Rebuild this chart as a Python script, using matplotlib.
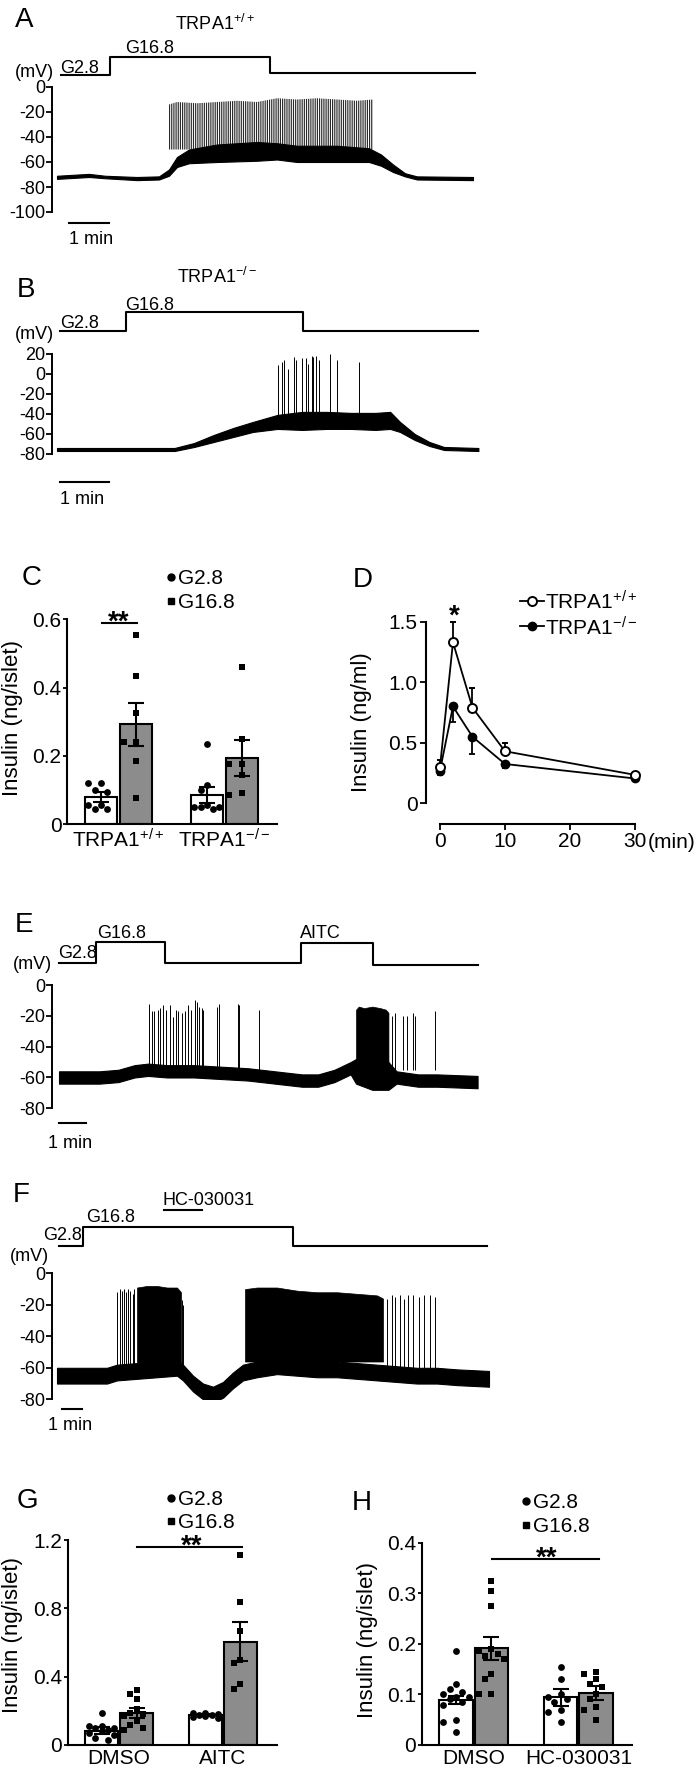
import numpy as np
import matplotlib
matplotlib.use('Agg')
import matplotlib.pyplot as plt
from matplotlib.transforms import blended_transform_factory

plt.rcParams['font.family'] = ['Liberation Sans', 'DejaVu Sans']
plt.rcParams['mathtext.fontset'] = 'custom'
plt.rcParams['mathtext.rm'] = 'Liberation Sans'
plt.rcParams['mathtext.it'] = 'Liberation Sans:italic'
plt.rcParams['mathtext.default'] = 'regular'
plt.rcParams['axes.unicode_minus'] = False
plt.rcParams['hatch.linewidth'] = 0.6

# ---------------- data ----------------
# A: TRPA1+/+ membrane potential (min, mV)
a_band_t = [0, 0.8, 1.2, 2.0, 2.55, 2.8, 3.0, 3.3, 4.0, 5.0, 5.5, 6.0, 7.0, 7.8, 8.1, 8.4, 8.7, 9.0, 10.4]
a_band_lo = [-73.5, -72, -73, -74.5, -74, -71, -64, -61, -60, -59, -58, -60, -60, -60, -63, -68, -71.5, -74, -74.5]
a_band_hi = [-71, -69.5, -71, -72, -71.5, -66, -56, -50, -46, -44, -45, -47, -47, -49, -54, -62, -69, -71.5, -72]
a_burst_t = [2.8, 3.0, 3.5, 4.0, 4.5, 5.0, 5.5, 6.0, 6.5, 7.0, 7.5, 7.9]
a_burst_top = [-14, -12, -13, -12, -11, -12, -9, -10, -9, -10, -11, -10]
a_stim_t = [0.1, 1.33, 1.33, 5.33, 5.33, 10.45]

# B: TRPA1-/-
b_band_t = [0, 2.4, 2.8, 3.2, 3.6, 4.0, 4.5, 5.0, 5.5, 6.0, 6.5, 6.8, 7.0, 7.3, 7.6, 7.9, 8.6]
b_band_lo = [-77, -77, -73, -68, -63, -58, -55, -56, -55, -55, -56, -55, -58, -66, -72, -76, -77]
b_band_hi = [-74, -74, -69, -61, -54, -48, -41, -38, -38, -39, -39, -38, -48, -60, -68, -73, -74]
b_spike_t = [4.51, 4.59, 4.63, 4.71, 4.84, 4.88, 5.00, 5.08, 5.12, 5.20, 5.22, 5.29, 5.35, 5.57, 5.71, 6.16]
b_spike_v = [9, 12, 14, 5, 17, 14, 16, 16, 10, 18, 17, 18, 14, 20, 14, 12]
b_stim_t = [0.06, 1.41, 1.41, 5.02, 5.02, 8.59]

# C: static insulin secretion
c_groups = ['TRPA1$^{+/+}$', 'TRPA1$^{-/-}$']
c_mean = [0.08, 0.292, 0.085, 0.194]
c_sem = [0.015, 0.063, 0.024, 0.052]
c_pts = [[0.12, 0.10, 0.095, 0.12, 0.055, 0.045, 0.045, 0.055],
         [0.555, 0.435, 0.325, 0.24, 0.24, 0.185, 0.075],
         [0.235, 0.115, 0.10, 0.055, 0.05, 0.05, 0.05, 0.045],
         [0.46, 0.25, 0.175, 0.175, 0.145, 0.085, 0.09]]

# D: perifusion time course
d_time = [0, 2, 5, 10, 30]
d_wt = [0.30, 1.33, 0.79, 0.43, 0.235]
d_wt_sem = [0.06, 0.17, 0.16, 0.065, 0.02]
d_ko = [0.27, 0.80, 0.55, 0.325, 0.205]
d_ko_sem = [0.04, 0.13, 0.14, 0.03, 0.015]

# E: G16.8 then AITC
e_band_t = [0, 1.5, 2.2, 2.8, 3.3, 4.0, 5.0, 6.0, 7.0, 8.0, 9.0, 9.6, 10.2, 10.8, 11.0, 11.6, 12.2, 12.5, 12.9, 13.3, 14.0, 15.5]
e_band_lo = [-64, -64, -63, -60, -59, -60, -60, -61, -62, -64, -66, -66, -63, -58, -64, -68, -68, -64, -65, -66, -66, -67]
e_band_hi = [-56, -56, -55, -52, -51, -52, -52, -53, -54, -56, -58, -58, -55, -50, -48, -48, -50, -56, -57, -58, -58, -59]
e_burst_t = [11.0, 11.1, 11.3, 11.6, 11.9, 12.1, 12.2]
e_burst_top = [-16, -14, -15, -14, -15, -16, -18]
e_spike_t = [3.35, 3.43, 3.52, 3.68, 3.74, 3.86, 3.95, 4.11, 4.23, 4.32, 4.42, 4.57, 4.67, 4.79, 4.89,
             5.04, 5.10, 5.19, 5.28, 5.35, 5.84, 5.94, 6.64, 6.68, 7.42,
             12.32, 12.44, 12.73, 12.88, 13.12, 13.19, 13.93]
e_spike_v = [-12, -17, -17, -16, -15, -13, -16, -13, -21, -16, -17, -18, -17, -13, -16,
             -10, -11, -14, -15, -16, -14, -12, -12, -13, -16,
             -20, -18, -20, -20, -18, -20, -17]
e_stim_t = [0, 1.37, 1.37, 3.93, 3.93, 8.96, 8.96, 11.63, 11.63, 15.5]

# F: HC-030031
f_band_t = [0, 2.5, 3.0, 4.0, 5.0, 6.0, 6.3, 6.8, 7.3, 7.8, 8.3, 8.8, 9.3, 10, 11, 12, 13, 14, 15, 16, 17, 18, 19, 20, 21.6]
f_band_lo = [-70, -70, -68, -67, -66, -65, -68, -75, -80, -82, -79, -73, -68, -66, -64, -65, -66, -66, -67, -68, -69, -70, -70, -71, -72]
f_band_hi = [-60, -60, -58, -57, -56, -55, -58, -65, -70, -72, -69, -63, -58, -56, -54, -55, -56, -56, -57, -58, -59, -60, -60, -61, -62]
f_burst1_t = [4.0, 4.5, 5.0, 5.5, 6.0, 6.2]
f_burst1_top = [-9, -8, -8, -9, -9, -12]
f_burst2_t = [9.4, 10, 11, 12, 13, 14, 15, 16, 16.3]
f_burst2_top = [-10, -9, -9, -11, -12, -12, -13, -14, -16]
f_spike_t = [3.02, 3.15, 3.23, 3.35, 3.45, 3.57, 3.65, 3.78, 3.87, 6.25, 6.32,
             16.5, 16.73, 16.9, 17.15, 17.35, 17.57, 17.82, 18.12, 18.35, 18.65, 18.9]
f_spike_v = [-12, -10, -11, -10, -12, -10, -11, -13, -10, -17, -20,
             -16, -14, -15, -14, -16, -14, -14, -15, -14, -14, -15]
f_stim_t = [0.1, 1.3, 1.3, 11.8, 11.8, 21.5]
f_hc_t = [5.35, 7.25]

# G: AITC
g_groups = ['DMSO', 'AITC']
g_mean = [0.084, 0.186, 0.176, 0.605]
g_sem = [0.02, 0.03, 0.008, 0.114]
g_pts = [[0.19, 0.11, 0.11, 0.10, 0.10, 0.09, 0.08, 0.07, 0.06, 0.04, 0.03],
         [0.32, 0.30, 0.27, 0.21, 0.19, 0.18, 0.17, 0.14, 0.12, 0.10, 0.09],
         [0.19, 0.185, 0.18, 0.175, 0.175, 0.17, 0.165, 0.16],
         [1.11, 0.84, 0.67, 0.50, 0.48, 0.36, 0.33]]

# H: HC-030031
h_groups = ['DMSO', 'HC-030031']
h_mean = [0.089, 0.191, 0.094, 0.103]
h_sem = [0.008, 0.022, 0.016, 0.014]
h_pts = [[0.185, 0.12, 0.11, 0.105, 0.10, 0.095, 0.095, 0.09, 0.085, 0.08, 0.05, 0.045, 0.025],
         [0.325, 0.305, 0.275, 0.19, 0.185, 0.18, 0.175, 0.17, 0.14, 0.13, 0.10, 0.10],
         [0.155, 0.13, 0.10, 0.095, 0.09, 0.085, 0.07, 0.065, 0.045],
         [0.145, 0.14, 0.13, 0.12, 0.115, 0.10, 0.09, 0.075, 0.07, 0.05]]

# ---------------- figure ----------------
W, H = 699, 1770
fig = plt.figure(figsize=(W / 100, H / 100), dpi=100)

ov = fig.add_axes([0, 0, 1, 1])
ov.set_xlim(0, W)
ov.set_ylim(H, 0)
ov.axis('off')
ov.set_zorder(10)


def px_axes(x0, y0, x1, y1):
    return fig.add_axes([x0 / W, 1 - y1 / H, (x1 - x0) / W, (y1 - y0) / H])


def label(x, y, s, size=13, **kw):
    ov.text(x, y, s, fontsize=size, va='baseline', ha=kw.pop('ha', 'left'), **kw)


def stars(x, y, s):
    ov.text(x, y, s, fontsize=20, fontweight='bold', va='baseline', ha='center')


def trace_axes(rect, xlim, ylim, ticks):
    ax = px_axes(*rect)
    ax.set_xlim(*xlim)
    ax.set_ylim(*ylim)
    for s in ['top', 'right', 'bottom']:
        ax.spines[s].set_visible(False)
    ax.spines['left'].set_bounds(min(ticks), max(ticks))
    ax.spines['left'].set_linewidth(1.4)
    ax.set_xticks([])
    ax.set_yticks(ticks)
    ax.set_yticklabels([str(v) for v in ticks])
    ax.tick_params(axis='y', length=4, width=1.3, labelsize=13, pad=1)
    ax.patch.set_visible(False)
    return ax


def px_line(ax, t, ypx, lw=1.5):
    tr = blended_transform_factory(ax.transData, ov.transData)
    ax.plot(t, ypx, color='k', lw=lw, transform=tr, clip_on=False)


# ---- A ----
ax = trace_axes((52, 45, 480, 212), (-0.125, 10.575), (-100, 33.6), [0, -20, -40, -60, -80, -100])
ax.fill_between(a_band_t, a_band_lo, a_band_hi, color='k', lw=0.8)
ax.fill_between(a_burst_t, -50, a_burst_top, facecolor='none', edgecolor='k', hatch='|||||||||', lw=0)
px_line(ax, a_stim_t, [75, 75, 57, 57, 73, 73])
px_line(ax, [0.3, 1.3], [223, 223])
label(15, 27, 'A', 20)
label(175, 30, 'TRPA1$^{+/+}$', 13)
label(125, 53, 'G16.8')
label(60, 73, 'G2.8')
label(15, 77, '(mV)')
label(69, 244, '1 min')

# ---- B ----
ax = trace_axes((52, 340, 480, 454), (-0.102, 8.633), (-80, 33.7), [20, 0, -20, -40, -60, -80])
ax.fill_between(b_band_t, b_band_lo, b_band_hi, color='k', lw=0.8)
ax.vlines(b_spike_t, -45, b_spike_v, color='k', lw=0.7)
px_line(ax, b_stim_t, [331, 331, 312, 312, 331, 331])
px_line(ax, [0.06, 1.06], [482, 482])
label(17, 297, 'B', 20)
label(177, 283, 'TRPA1$^{-/-}$', 13)
label(125, 310, 'G16.8')
label(60, 328, 'G2.8')
label(15, 339, '(mV)')
label(60, 504, '1 min')


# ---- bar charts ----
def swarm(vals, ppy, ppx, d=7.0):
    vals = np.asarray(vals)
    offs = np.zeros(len(vals))
    placed = []
    cands = [0, -1, 1, -2, 2]
    for i in np.argsort(vals)[::-1]:
        y = vals[i] * ppy
        best, bestd = 0, -1
        for c in cands:
            x = c * d * 0.9
            md = min([np.hypot(x - px, y - py) for px, py in placed] + [1e9])
            if md >= d:
                best = x
                break
            if md > bestd:
                best, bestd = x, md
        placed.append((best, y))
        offs[i] = best / ppx
    return offs


def bar_panel(rect, xlim, ylim, ticks, ticklabels, pos, width, means, sems, pts, groups, ppy, ppx):
    ax = px_axes(*rect)
    ax.set_xlim(*xlim)
    ax.set_ylim(*ylim)
    for s in ['top', 'right']:
        ax.spines[s].set_visible(False)
    ax.spines['left'].set_linewidth(1.5)
    ax.spines['bottom'].set_linewidth(1.5)
    ax.patch.set_visible(False)
    colors = ['white', '#8c8c8c', 'white', '#8c8c8c']
    ax.bar(pos, means, width=width, color=colors, edgecolor='k', lw=1.5, zorder=1)
    markers = ['o', 's', 'o', 's']
    for p, vals, m in zip(pos, pts, markers):
        xo = swarm(vals, ppy, ppx)
        ax.scatter(p + xo, vals, marker=m, s=24 if m == 'o' else 22, color='k', lw=0, zorder=3, clip_on=False)
    ax.errorbar(pos, means, yerr=sems, fmt='none', ecolor='k', elinewidth=1.5, capsize=5.5, capthick=1.5, zorder=4)
    ax.set_yticks(ticks)
    ax.set_yticklabels(ticklabels)
    ax.set_xticks([(pos[0] + pos[1]) / 2, (pos[2] + pos[3]) / 2])
    ax.set_xticklabels(groups)
    ax.tick_params(axis='y', length=3, width=1.3, labelsize=15, pad=1)
    ax.tick_params(axis='x', length=0, labelsize=15, pad=3)
    return ax


# ---- C ----
bar_panel((67, 619.3, 277, 824), (-0.963, 4.99), (0, 0.6), [0, 0.2, 0.4, 0.6], ['0', '0.2', '0.4', '0.6'],
          [0, 1, 3, 4], 0.9, c_mean, c_sem, c_pts, c_groups, 341.5, 35.3)
label(22, 585, 'C', 20)
ov.plot(171, 577, 'o', color='k', ms=5)
ov.plot(171, 601, 's', color='k', ms=4.5)
label(178, 584, 'G2.8', 15)
label(178, 608, 'G16.8', 15)
ov.plot([102, 137], [623, 623], color='k', lw=1.5)
stars(119, 630, '**')
ov.text(13, 718, 'Insulin (ng/islet)', fontsize=16, rotation=90, ha='center', va='center')

# ---- D ----
ax = px_axes(426, 600, 640, 824)
ax.set_xlim(-2.15, 30.77)
ax.set_ylim(-0.171, 1.68)
for s in ['top', 'right']:
    ax.spines[s].set_visible(False)
ax.spines['left'].set_bounds(0, 1.5)
ax.spines['bottom'].set_bounds(0, 30)
ax.spines['left'].set_linewidth(1.5)
ax.spines['bottom'].set_linewidth(1.5)
ax.patch.set_visible(False)
n = len(d_time)
ax.errorbar(d_time, d_ko, yerr=[d_ko_sem, np.zeros(n)], fmt='-o', color='k', ms=6, lw=1.3,
            elinewidth=1.3, capsize=2.5, capthick=1.3, zorder=2, clip_on=False)
ax.errorbar(d_time, d_wt, yerr=[np.zeros(n), d_wt_sem], fmt='-o', color='k', mfc='white', mec='k', ms=6.5,
            mew=1.4, lw=1.3, elinewidth=1.3, capsize=2.5, capthick=1.3, zorder=3, clip_on=False)
ax.set_yticks([0, 0.5, 1.0, 1.5])
ax.set_yticklabels(['0', '0.5', '1.0', '1.5'])
ax.set_xticks([0, 10, 20, 30])
ax.set_xticklabels(['0', '10', '20', '30'])
ax.tick_params(length=4, width=1.3, labelsize=15, pad=2)
label(353, 587, 'D', 20)
stars(454, 624, '*')
label(648, 848, '(min)', 15)
ov.plot([520, 544], [601, 601], color='k', lw=1.3)
ov.plot(532, 601, 'o', mfc='white', mec='k', ms=6.5, mew=1.4)
ov.plot([520, 544], [626, 626], color='k', lw=1.3)
ov.plot(532, 626, 'o', color='k', ms=6)
label(545, 610, 'TRPA1$^{+/+}$', 15)
label(545, 635, 'TRPA1$^{-/-}$', 15)
ov.text(362, 722, 'Insulin (ng/ml)', fontsize=16, rotation=90, ha='center', va='center')

# ---- E ----
ax = trace_axes((52, 975, 480, 1108.3), (-0.259, 15.59), (-80, 6.5), [0, -20, -40, -60, -80])
ax.fill_between(e_band_t, e_band_lo, e_band_hi, color='k', lw=0.8)
ax.fill_between(e_burst_t, -52, e_burst_top, color='k', lw=0.5)
ax.vlines(e_spike_t, -55, e_spike_v, color='k', lw=0.7)
px_line(ax, e_stim_t, [963, 963, 941.7, 941.7, 963, 963, 943, 943, 965, 965])
px_line(ax, [0, 1], [1123, 1123])
label(15, 932, 'E', 20)
label(97, 938, 'G16.8')
label(300, 938, 'AITC')
label(58, 958, 'G2.8')
label(13, 969, '(mV)')
label(48, 1148, '1 min')

# ---- F ----
ax = trace_axes((52, 1265, 492, 1399.3), (-0.25, 21.75), (-80, 5.3), [0, -20, -40, -60, -80])
ax.fill_between(f_band_t, f_band_lo, f_band_hi, color='k', lw=0.8)
ax.fill_between(f_burst1_t, -58, f_burst1_top, color='k', lw=0.5)
ax.fill_between(f_burst2_t, -56, f_burst2_top, color='k', lw=0.5)
ax.vlines(f_spike_t, -60, f_spike_v, color='k', lw=0.7)
px_line(ax, f_stim_t, [1246, 1246, 1227.3, 1227.3, 1246, 1246])
px_line(ax, f_hc_t, [1210, 1210])
px_line(ax, [0.25, 1.25], [1409, 1409])
label(13, 1202, 'F', 20)
label(163, 1205, 'HC-030031')
label(86, 1222, 'G16.8')
label(43, 1240, 'G2.8')
label(10, 1261, '(mV)')
label(48, 1430, '1 min')

# ---- G ----
bar_panel((67.7, 1540, 277, 1745), (-0.963, 4.99), (0, 1.2), [0, 0.4, 0.8, 1.2], ['0', '0.4', '0.8', '1.2'],
          [0, 1, 2.95, 3.95], 0.93, g_mean, g_sem, g_pts, g_groups, 170.8, 35.3)
label(17, 1508, 'G', 20)
ov.plot(171, 1498, 'o', color='k', ms=5)
ov.plot(171, 1521, 's', color='k', ms=4.5)
label(178, 1505, 'G2.8', 15)
label(178, 1528, 'G16.8', 15)
ov.plot([137, 242], [1546.7, 1546.7], color='k', lw=1.5)
stars(191.5, 1554, '**')
ov.text(13, 1635, 'Insulin (ng/islet)', fontsize=16, rotation=90, ha='center', va='center')

# ---- H ----
bar_panel((421.7, 1542.7, 632, 1745), (-0.966, 4.96), (0, 0.4), [0, 0.1, 0.2, 0.3, 0.4],
          ['0', '0.1', '0.2', '0.3', '0.4'],
          [0, 1, 2.95, 3.95], 0.94, h_mean, h_sem, h_pts, h_groups, 506, 35.5)
label(352, 1510, 'H', 20)
ov.plot(526, 1501, 'o', color='k', ms=5)
ov.plot(526, 1525, 's', color='k', ms=4.5)
label(533, 1508, 'G2.8', 15)
label(533, 1532, 'G16.8', 15)
ov.plot([491.7, 599.3], [1559.3, 1559.3], color='k', lw=1.5)
stars(547, 1566, '**')
ov.text(368, 1640, 'Insulin (ng/islet)', fontsize=16, rotation=90, ha='center', va='center')

fig.savefig('out.png', dpi=100)
